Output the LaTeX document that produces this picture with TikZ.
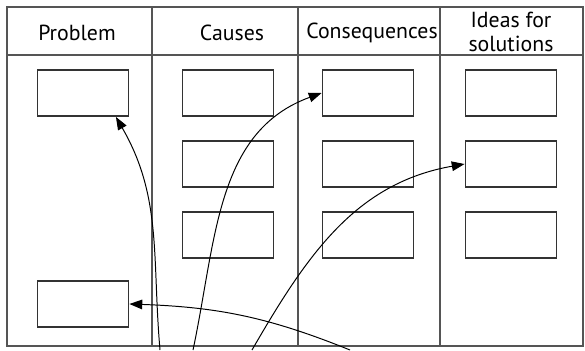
\documentclass[tikz,border=0pt]{standalone}
\usepackage{fontspec}
\setmainfont{PT Sans}
\usetikzlibrary{arrows.meta}
\definecolor{rule}{HTML}{555555}
\definecolor{boxline}{HTML}{333333}

\begin{document}
\begin{tikzpicture}[x=.025cm, y=.025cm,
	cell/.style={draw=boxline, line width=1.3pt, minimum width=2.275cm, minimum height=1.15cm, inner sep=0pt},
	head/.style={font=\fontsize{15.5}{17.5}\selectfont, align=center},
	grid/.style={draw=rule, line width=.9pt},
	link/.style={-{Triangle[length=3.2mm, width=2.4mm]}, line width=.7pt}]
	\useasboundingbox (0,0) rectangle (585,350);

	% table
	\draw[grid] (7,4) rectangle (583,343);
	\draw[grid] (7,295) -- (583,295);
	\foreach \x in {152,298,440}{
		\draw[grid] (\x,4) -- (\x,343);
	}

	% headers
	\node[head] (hprob) at (77,317) {Problem};
	\node[head] (hcaus) at (232,317) {Causes};
	\node[head] (hcons) at (372,317) {Consequences};
	\node[head] (hidea) at (511,318) {Ideas for\\solutions};

	% boxes
	\node[cell] (prob1) at (83,257) {};
	\node[cell] (prob2) at (83,46) {};
	\foreach \name/\x in {caus/228, cons/368, idea/511}{
		\foreach \y [count=\j] in {257,186,115}{
			\node[cell] (\name\j) at (\x,\y) {};
		}
	}

	% loose ends below the table
	\coordinate (s1) at (160,0);
	\coordinate (s2) at (193,0);
	\coordinate (s3) at (252,0);
	\coordinate (s4) at (350,0);

	% arrows
	\draw[link] (s1) to[out=95, in=-60] (prob1.-36);
	\draw[link] (s2) to[out=78, in=200] (cons1.west);
	\draw[link] (s3) to[out=60, in=190] (idea2.west);
	\draw[link] (s4) to[out=158, in=-2] (prob2.east);
\end{tikzpicture}
\end{document}
